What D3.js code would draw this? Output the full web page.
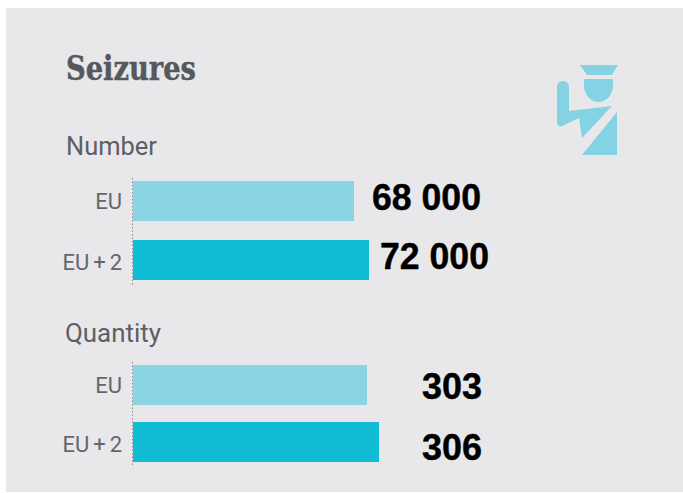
<!DOCTYPE html>
<html><head><meta charset="utf-8">
<script src="https://cdn.jsdelivr.net/npm/d3@7"></script>
<style>html,body{margin:0;padding:0;background:#fff}svg{display:block}</style>
</head><body><svg id="c" width="683" height="493"></svg>
<script>
const groups = ["Number", "Quantity"];
const categories = ["EU", "EU + 2"];
const numberValues = [68000, 72000];
const quantityValues = [303, 306];
const numberLabels = ["68 000", "72 000"];
const quantityLabels = ["303", "306"];
const title = "Seizures";

const svg = d3.select("#c");
svg.append("rect").attr("x",6).attr("y",8).attr("width",677).attr("height",484).attr("fill","#e8e8ea");

svg.append("text").text(title).attr("x",66).attr("y",80)
  .attr("font-family","DejaVu Serif").attr("font-weight",700).attr("font-size",33).attr("fill","#55595d")
  .attr("stroke","#55595d").attr("stroke-width",0.5)
  .attr("textLength",130).attr("lengthAdjust","spacingAndGlyphs");

const colors = d3.scaleOrdinal().domain(categories).range(["#8ad4e4","#0fbcd3"]);
const panels = [
  {name:groups[0], vals:numberValues, labs:numberLabels, ty:155, tx:66, base:[181,240], h:40, dom:[68000,72000], rng:[354,369], lx:[372,380], ly:[210,269], tl:91, vl:109},
  {name:groups[1], vals:quantityValues, labs:quantityLabels, ty:342, tx:65, base:[365,422], h:40, dom:[303,306], rng:[367,379], lx:[422,422], ly:[399,460], tl:96, vl:60}
];
const x0 = 133;
panels.forEach(p=>{
  const x = d3.scaleLinear().domain(p.dom).range(p.rng);
  svg.append("text").text(p.name).attr("x",p.tx).attr("y",p.ty)
    .attr("font-family","Roboto").attr("font-size",25).attr("fill","#5c6064")
    .attr("textLength",p.tl).attr("lengthAdjust","spacingAndGlyphs");
  svg.append("line").attr("x1",x0-.5).attr("x2",x0-.5).attr("y1",p.base[0]-3).attr("y2",p.base[1]+p.h+5)
    .attr("stroke","#8a8d90").attr("stroke-dasharray","1.5 2");
  const g = svg.append("g");
  g.selectAll("rect").data(p.vals).join("rect")
    .attr("x",x0).attr("y",(d,i)=>p.base[i]).attr("height",p.h)
    .attr("width",d=>x(d)-x0).attr("fill",(d,i)=>colors(categories[i]));
  g.selectAll("text.cat").data(categories).join("text").attr("class","cat")
    .text(d=>d).attr("x",122).attr("y",(d,i)=>p.base[i]+p.h/2+(i?10:8))
    .attr("text-anchor","end").attr("font-family","Roboto").attr("font-size",22).attr("word-spacing",-1.5).attr("fill","#63676b");
  g.selectAll("text.val").data(p.labs).join("text").attr("class","val")
    .text(d=>d).attr("x",(d,i)=>p.lx[i]).attr("y",(d,i)=>p.ly[i])
    .attr("font-family","Liberation Sans").attr("font-weight",700).attr("font-size",36).attr("fill","#000")
    .attr("stroke","#000").attr("stroke-width",0.4)
    .attr("textLength",p.vl).attr("lengthAdjust","spacingAndGlyphs");
});

const icon = svg.append("g").attr("fill","#84d3e4");
icon.append("path").attr("d","M580 65H618L612 75H587Z");
icon.append("path").attr("d","M584 79H613V86C613 95 606 102 598.500 102C591 102 584 95 584 86Z");
icon.append("path").attr("d","M557 87C557 79 569 79 569 87V111L612 106L582 138L579 118L562 126C559 127 557 125 557 122Z");
icon.append("path").attr("d","M617 112V155H582Z");
</script></body></html>
